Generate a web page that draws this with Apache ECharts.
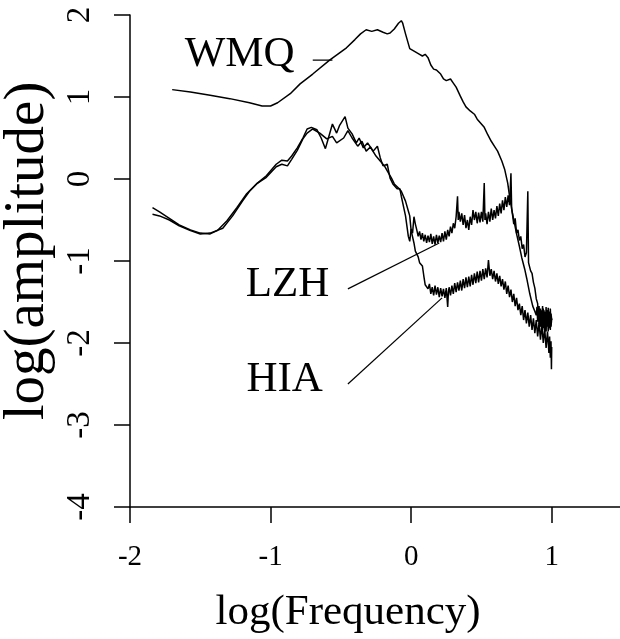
<!DOCTYPE html>
<html>
<head>
<meta charset="utf-8">
<script src="https://cdn.jsdelivr.net/npm/echarts@6/dist/echarts.min.js"></script>
<style>html,body{margin:0;padding:0;background:#fff}#c{width:620px;height:639px}</style>
</head>
<body>
<div id="c"></div>
<script>
// Tick values
const xTicks = [-2, -1, 0, 1];
const yTicks = [-4, -3, -2, -1, 0, 1, 2];

// WMQ spectrum
const wmqX = [-1.70,-1.57,-1.43,-1.29,-1.15,-1.06,-1.00,-0.95,-0.86,-0.79,-0.70,-0.58,-0.46,-0.40,-0.36,-0.32,-0.28,-0.24,-0.20,-0.17,-0.15,-0.12,-0.09,-0.07,-0.06,-0.04,-0.01,0.03,0.06,0.08,0.10,0.12,0.14,0.16,0.18,0.21,0.23,0.25,0.28,0.30,0.32,0.35,0.37,0.39,0.40,0.42,0.45,0.47,0.52,0.545,0.57,0.60,0.615,0.645,0.665,0.687,0.70,0.72,0.75,0.77,0.787,0.808,0.822,0.844,0.865,0.879,0.89,0.895,0.90,0.905,0.91,0.915,0.92,0.925,0.93,0.935,0.94,0.945,0.95,0.955,0.96,0.965,0.97,0.975,0.98,0.985,0.99,0.995,1.00];
const wmqY = [1.09,1.06,1.02,0.98,0.93,0.89,0.89,0.93,1.04,1.16,1.28,1.45,1.60,1.70,1.77,1.82,1.80,1.82,1.79,1.77,1.78,1.83,1.90,1.93,1.90,1.77,1.59,1.55,1.52,1.50,1.52,1.48,1.39,1.34,1.33,1.28,1.22,1.20,1.22,1.17,1.12,1.01,0.94,0.88,0.90,0.83,0.79,0.73,0.63,0.54,0.46,0.38,0.34,0.22,0.12,-0.05,-0.21,-0.41,-0.67,-0.82,-0.96,-1.10,-1.21,-1.40,-1.55,-1.61,-1.66,-1.56,-1.74,-1.58,-1.77,-1.60,-1.80,-1.62,-1.75,-1.55,-1.78,-1.60,-1.83,-1.63,-1.86,-1.60,-1.78,-1.57,-1.82,-1.62,-1.84,-1.64,-1.72];

// LZH spectrum
const lzhX = [-1.84,-1.79,-1.72,-1.65,-1.57,-1.50,-1.43,-1.38,-1.31,-1.24,-1.17,-1.10,-1.03,-0.96,-0.92,-0.88,-0.85,-0.81,-0.77,-0.74,-0.71,-0.67,-0.64,-0.61,-0.59,-0.56,-0.53,-0.51,-0.47,-0.45,-0.42,-0.39,-0.37,-0.34,-0.31,-0.27,-0.24,-0.22,-0.20,-0.17,-0.15,-0.13,-0.10,-0.08,-0.07,-0.04,-0.02,-0.01,0.00,
  0.01,0.02,0.03,0.04,0.05,0.06,0.07,0.08,0.09,0.10,0.11,0.12,0.13,0.14,0.15,0.16,0.17,0.18,0.19,0.20,0.21,0.22,0.23,0.24,0.25,0.26,0.27,0.28,0.29,0.30,0.31,0.32,0.33,0.335,0.34,0.35,0.36,0.37,0.38,0.39,0.40,0.41,0.42,0.43,0.44,0.45,0.46,0.47,0.48,0.49,0.50,0.51,0.52,0.525,0.53,0.54,0.55,0.56,0.57,0.58,0.59,0.60,0.61,0.62,0.63,0.64,0.65,0.66,0.67,0.68,0.69,0.70,0.71,0.715,0.72,0.73,0.74,0.75,0.76,0.77,0.78,0.79,0.80,0.81,0.82,0.83,0.835,0.84,0.85,0.86,0.87,0.88,0.89,0.90,
  0.905,0.91,0.915,0.92,0.925,0.93,0.935,0.94,0.945,0.95,0.955,0.96,0.965,0.97,0.975,0.98,0.985,0.99,0.995,1.00];
const lzhY = [-0.35,-0.40,-0.48,-0.56,-0.62,-0.66,-0.67,-0.63,-0.51,-0.35,-0.18,-0.06,0.04,0.18,0.23,0.22,0.28,0.38,0.50,0.61,0.63,0.60,0.50,0.37,0.49,0.67,0.56,0.65,0.76,0.62,0.55,0.44,0.50,0.38,0.44,0.34,0.40,0.26,0.16,0.18,0.01,-0.06,-0.12,-0.12,-0.21,-0.45,-0.70,-0.76,-0.61,
  -0.66,-0.46,-0.55,-0.62,-0.70,-0.64,-0.74,-0.66,-0.76,-0.68,-0.78,-0.69,-0.77,-0.67,-0.79,-0.70,-0.80,-0.68,-0.78,-0.69,-0.77,-0.66,-0.76,-0.64,-0.74,-0.62,-0.70,-0.58,-0.66,-0.54,-0.60,-0.46,-0.21,-0.50,-0.40,-0.52,-0.42,-0.56,-0.44,-0.60,-0.50,-0.62,-0.46,-0.56,-0.38,-0.50,-0.40,-0.54,-0.41,-0.53,-0.40,-0.52,-0.05,-0.50,-0.42,-0.55,-0.40,-0.52,-0.36,-0.50,-0.38,-0.48,-0.33,-0.45,-0.30,-0.42,-0.26,-0.38,-0.22,-0.34,-0.20,-0.32,0.07,-0.36,-0.42,-0.55,-0.48,-0.66,-0.62,-0.75,-0.70,-0.85,-0.80,-0.95,-0.90,-0.15,-1.02,-1.00,-1.12,-1.15,-1.26,-1.33,-1.46,-1.52,
  -1.70,-1.55,-1.78,-1.58,-1.80,-1.60,-1.84,-1.58,-1.82,-1.62,-1.86,-1.56,-1.80,-1.60,-1.86,-1.62,-1.82,-1.58,-1.80,-1.70];

// HIA spectrum
const hiaX = [-1.84,-1.79,-1.72,-1.65,-1.57,-1.50,-1.43,-1.34,-1.27,-1.20,-1.15,-1.10,-1.03,-0.96,-0.92,-0.88,-0.85,-0.81,-0.77,-0.74,-0.70,-0.65,-0.60,-0.56,-0.53,-0.48,-0.45,-0.42,-0.38,-0.35,-0.32,-0.29,-0.25,-0.22,-0.19,-0.17,-0.14,-0.12,-0.09,-0.07,-0.04,-0.02,-0.01,0.00,0.02,0.03,0.05,0.06,0.08,0.09,0.10,
  0.12,0.13,0.14,0.15,0.16,0.17,0.18,0.19,0.20,0.21,0.22,0.23,0.24,0.25,0.26,0.265,0.27,0.28,0.29,0.30,0.31,0.32,0.33,0.34,0.35,0.36,0.37,0.38,0.39,0.40,0.41,0.42,0.43,0.44,0.45,0.46,0.47,0.48,0.49,0.50,0.51,0.52,0.53,0.54,0.55,0.56,0.57,0.58,0.59,0.60,0.61,0.62,0.63,0.64,0.65,0.66,0.67,0.68,0.69,0.70,0.71,0.72,0.73,0.74,0.75,0.76,0.77,0.78,0.79,0.80,0.81,0.82,0.83,0.84,0.85,0.86,0.87,0.88,0.89,0.90,0.91,0.92,0.93,0.94,0.95,0.96,0.97,0.98,0.985,0.99,0.995,0.998,1.00];
const hiaY = [-0.43,-0.45,-0.50,-0.57,-0.63,-0.67,-0.66,-0.60,-0.45,-0.27,-0.15,-0.06,0.02,0.15,0.18,0.16,0.24,0.35,0.49,0.56,0.61,0.56,0.49,0.52,0.44,0.50,0.59,0.50,0.40,0.46,0.34,0.39,0.28,0.22,0.16,0.10,0.01,-0.06,-0.11,-0.15,-0.27,-0.39,-0.45,-0.63,-0.78,-0.88,-0.95,-1.02,-1.06,-1.18,-1.29,
  -1.34,-1.28,-1.40,-1.32,-1.42,-1.30,-1.41,-1.32,-1.44,-1.33,-1.43,-1.34,-1.45,-1.33,-1.56,-1.38,-1.32,-1.42,-1.30,-1.40,-1.27,-1.38,-1.26,-1.36,-1.24,-1.36,-1.22,-1.33,-1.20,-1.32,-1.19,-1.31,-1.17,-1.29,-1.15,-1.27,-1.13,-1.26,-1.12,-1.24,-1.10,-1.22,-1.09,-1.20,-0.99,-1.18,-1.10,-1.22,-1.12,-1.25,-1.15,-1.28,-1.18,-1.31,-1.22,-1.35,-1.25,-1.40,-1.30,-1.44,-1.35,-1.50,-1.40,-1.55,-1.45,-1.60,-1.52,-1.66,-1.55,-1.72,-1.60,-1.76,-1.63,-1.80,-1.66,-1.84,-1.70,-1.88,-1.72,-1.92,-1.75,-1.96,-1.78,-2.00,-1.82,-2.06,-1.86,-2.12,-1.92,-2.18,-1.98,-2.32,-2.05];

// Annotation labels (value coordinates of text centre) and leader lines
const labelNames = ['WMQ', 'LZH', 'HIA'];
const labelX = [-1.22, -0.88, -0.90];
const labelY = [1.51, -1.29, -2.45];
const leaderX0 = [-0.70, -0.45, -0.45];
const leaderY0 = [1.45, -1.34, -2.50];
const leaderX1 = [-0.56, 0.20, 0.22];
const leaderY1 = [1.45, -0.78, -1.45];

const zip = (xs, ys) => xs.map((x, i) => [x, ys[i]]);
const FONT = '"Liberation Serif", "Times New Roman", serif';

const chart = echarts.init(document.getElementById('c'), null, {renderer: 'canvas'});
const curve = (name, xs, ys) => ({
  name, type: 'line', data: zip(xs, ys), showSymbol: false, symbol: 'none',
  lineStyle: {color: '#000', width: 1.5}, animation: false, silent: true, z: 3
});
const leaders = labelNames.map((n, i) => ({
  type: 'line', data: [[leaderX0[i], leaderY0[i]], [leaderX1[i], leaderY1[i]]],
  showSymbol: false, symbol: 'none', lineStyle: {color: '#000', width: 1.2}, animation: false, silent: true
}));

chart.setOption({
  animation: false,
  backgroundColor: '#fff',
  grid: {left: 130, top: 15, width: 492, height: 492, containLabel: false, outerBoundsMode: 'none'},
  xAxis: {
    type: 'value', min: -2, max: 1.5, interval: 1,
    name: 'log(Frequency)', nameLocation: 'middle', nameGap: 84,
    nameTextStyle: {fontFamily: FONT, fontSize: 43, color: '#000', padding: [0, 56, 0, 0]},
    axisLine: {show: true, onZero: false, lineStyle: {color: '#000', width: 1.5}},
    axisTick: {show: true, inside: false, length: 16, lineStyle: {color: '#000', width: 1.5}},
    axisLabel: {show: true, margin: 36, fontFamily: FONT, fontSize: 29, color: '#000', showMaxLabel: false,
      formatter: v => xTicks.includes(v) ? String(v) : ''},
    splitLine: {show: false}
  },
  yAxis: {
    type: 'value', min: -4, max: 2, interval: 1,
    name: 'log(amplitude)', nameLocation: 'middle', nameGap: 71,
    nameTextStyle: {fontFamily: FONT, fontSize: 57, color: '#000', padding: [0, 0, 0, 20]},
    axisLine: {show: true, onZero: false, lineStyle: {color: '#000', width: 1.5}},
    axisTick: {show: true, inside: false, length: 16, lineStyle: {color: '#000', width: 1.5}},
    axisLabel: {show: true, rotate: 90, margin: 33, fontFamily: FONT, fontSize: 33, color: '#000',
      formatter: v => yTicks.includes(v) ? String(v) : ''},
    splitLine: {show: false}
  },
  series: [
    curve('WMQ', wmqX, wmqY),
    curve('LZH', lzhX, lzhY),
    curve('HIA', hiaX, hiaY),
    ...leaders,
    {
      type: 'scatter', symbolSize: 0, silent: true, animation: false,
      itemStyle: {opacity: 1},
      data: labelNames.map((n, i) => ({name: n, value: [labelX[i], labelY[i]]})),
      label: {show: true, position: 'inside', formatter: p => p.name, opacity: 1,
        fontFamily: FONT, fontSize: 43, color: '#000', textBorderWidth: 0}
    }
  ]
});
</script>
</body>
</html>
